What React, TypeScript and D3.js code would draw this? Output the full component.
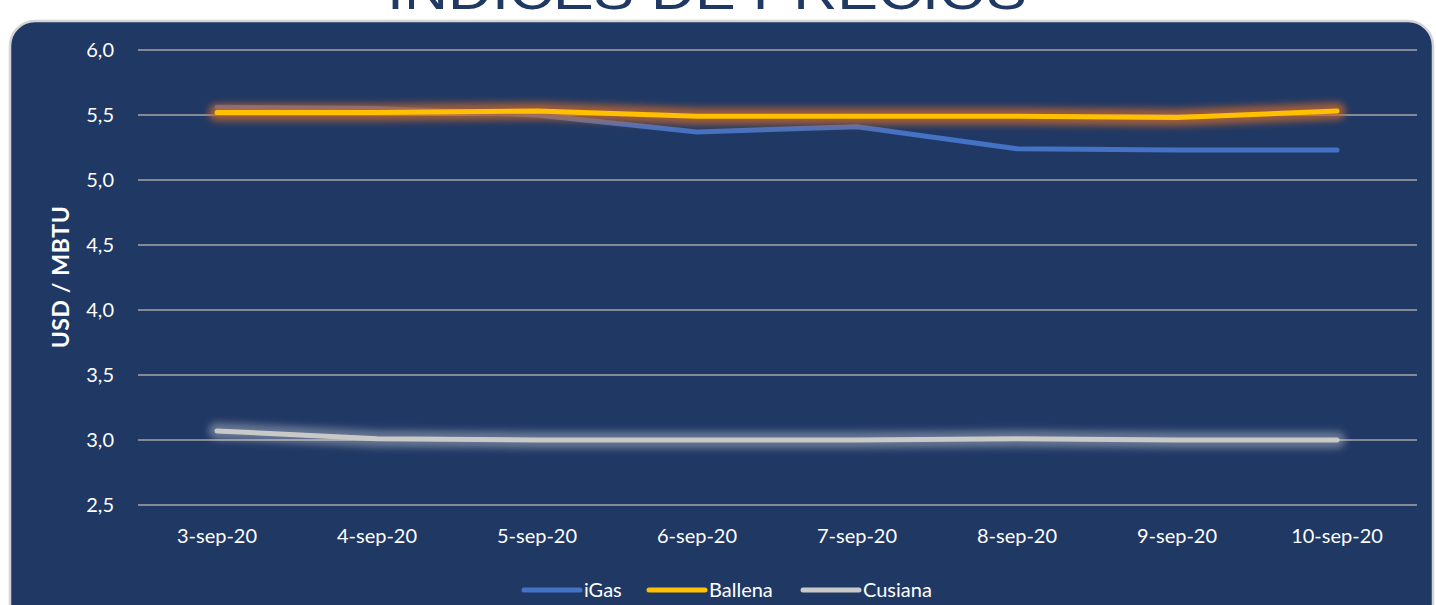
import * as d3 from "d3";

const dates = ["3-sep-20", "4-sep-20", "5-sep-20", "6-sep-20", "7-sep-20", "8-sep-20", "9-sep-20", "10-sep-20"];
const iGas = [5.56, 5.55, 5.5, 5.37, 5.41, 5.24, 5.23, 5.23];
const ballena = [5.52, 5.52, 5.53, 5.49, 5.49, 5.49, 5.48, 5.53];
const cusiana = [3.07, 3.01, 3.0, 3.0, 3.0, 3.01, 3.0, 3.0];
const yTicks = [2.5, 3.0, 3.5, 4.0, 4.5, 5.0, 5.5, 6.0];

const seriesNames = ["iGas", "Ballena", "Cusiana"];
const seriesValues = [iGas, ballena, cusiana];
const seriesColors = ["#4472c4", "#ffc000", "#c9c9c9"];
const glowColors = [null, "#c8682c", "#e8e8e8"];
const glowOpacity = [0, 0.75, 0.35];

const W = 1436;
const H = 605;
const FONT = "Lato, 'Open Sans', sans-serif";

export default function App() {
  const x = d3.scalePoint<string>().domain(dates).range([137, 1417]).padding(0.5);
  const y = d3.scaleLinear().domain([2.5, 6]).range([505, 50]);
  const fmt = (v: number) => v.toFixed(1).replace(".", ",");

  const line = d3
    .line<number>()
    .x((_, i) => x(dates[i]) as number)
    .y((d) => y(d));

  const legendX = [524, 649, 803];

  return (
    <div style={{ position: "absolute", left: 0, top: 0 }}>
      <svg width={W} height={H} style={{ display: "block", fontFamily: FONT }}>
        <defs>
          <filter id="glow" filterUnits="userSpaceOnUse" x={0} y={0} width={W} height={H}>
            <feGaussianBlur stdDeviation="3.5" />
          </filter>
        </defs>
        <rect x={0} y={0} width={W} height={H} fill="#ffffff" />
        <text
          x={707}
          y={9}
          textAnchor="middle"
          fontFamily="'Liberation Sans', sans-serif"
          fontSize={52}
          fill="#1f3864"
          textLength={640}
          lengthAdjust="spacingAndGlyphs"
        >
          ÍNDICES DE PRECIOS
        </text>
        <rect
          x={10}
          y={21}
          width={1423}
          height={640}
          rx={25}
          fill="#203864"
          stroke="#d4d4d4"
          strokeWidth={2.5}
        />

        {/* gridlines */}
        {yTicks.map((t) => (
          <line key={t} x1={138} x2={1417} y1={y(t)} y2={y(t)} stroke="#a6a6a6" strokeWidth={1.5} />
        ))}
        {yTicks.map((t) => (
          <text key={"l" + t} x={114} y={y(t) + 7} textAnchor="end" fontSize={20} fill="#ffffff">
            {fmt(t)}
          </text>
        ))}
        {dates.map((d) => (
          <text key={d} x={x(d)} y={543} textAnchor="middle" fontSize={20} fill="#ffffff">
            {d}
          </text>
        ))}
        <text
          transform={`translate(69,277) rotate(-90)`}
          textAnchor="middle"
          fontSize={23}
          fontWeight="bold"
          fill="#ffffff"
          letterSpacing={0.6}
        >
          USD / MBTU
        </text>

        {/* series */}
        {seriesValues.map((vals, i) => (
          <g key={seriesNames[i]}>
            {glowColors[i] && (
              <path
                d={line(vals) ?? ""}
                fill="none"
                stroke={glowColors[i] as string}
                strokeOpacity={glowOpacity[i]}
                strokeWidth={17}
                strokeLinecap="round"
                strokeLinejoin="round"
                filter="url(#glow)"
              />
            )}
            <path
              d={line(vals) ?? ""}
              fill="none"
              stroke={seriesColors[i]}
              strokeWidth={5}
              strokeLinecap="round"
              strokeLinejoin="round"
            />
          </g>
        ))}

        {/* legend */}
        {seriesNames.map((n, i) => (
          <g key={"leg" + n} transform={`translate(${legendX[i]},590)`}>
            <line x1={0} x2={56} y1={0} y2={0} stroke={seriesColors[i]} strokeWidth={5} strokeLinecap="round" />
            <text x={60} y={7} fontSize={20} fill="#ffffff">
              {n}
            </text>
          </g>
        ))}
      </svg>
    </div>
  );
}
